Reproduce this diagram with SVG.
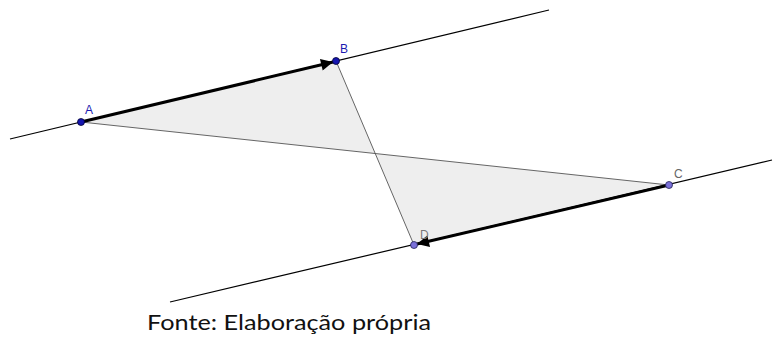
<svg xmlns="http://www.w3.org/2000/svg" width="781" height="338" viewBox="0 0 781 338">
<style>
.line{stroke:#000;stroke-width:1.2;fill:none}
.seg{stroke:#555;stroke-width:0.9;fill:none}
.vec{stroke:#000;stroke-width:3;fill:none}
.lbl{font-family:"Liberation Sans",Arial,sans-serif;font-size:12px}
.cap{font-family:Lato,"DejaVu Sans",sans-serif;font-size:21px;fill:#111}
</style>
<defs>
<marker id="arr" viewBox="0 0 10 10" refX="10" refY="5" markerWidth="5.5" markerHeight="4" markerUnits="strokeWidth" orient="auto">
<path d="M0,0 L10,5 L0,10 Z" fill="#000"/>
</marker>
</defs>
<rect width="781" height="338" fill="#fff"/>
<g id="shading">
<polygon points="81,122 336,61 414,245 669,185" fill="#eeeeee" stroke="none"/>
</g>
<g id="connectors">
<line class="line" x1="10" y1="139" x2="549" y2="10"/>
<line class="line" x1="170" y1="302" x2="772" y2="160"/>
<line class="seg" x1="81" y1="122" x2="669" y2="185"/>
<line class="seg" x1="336" y1="61" x2="414" y2="245"/>
<line class="vec" x1="81" y1="122" x2="333" y2="62" marker-end="url(#arr)"/>
<line class="vec" x1="669" y1="185" x2="417" y2="244" marker-end="url(#arr)"/>
</g>
<g id="A"><circle cx="81" cy="122" r="3.5" fill="#1515b0" stroke="#000033" stroke-width="0.8"/><text class="lbl" x="85" y="114" fill="#1a1ab0">A</text></g>
<g id="B"><circle cx="336" cy="61" r="3.5" fill="#1515b0" stroke="#000033" stroke-width="0.8"/><text class="lbl" x="340" y="53" fill="#1a1ab0">B</text></g>
<g id="C"><circle cx="669" cy="185" r="3.5" fill="#7a70d8" stroke="#222255" stroke-width="0.8"/><text class="lbl" x="674" y="178" fill="#666">C</text></g>
<g id="D"><circle cx="414" cy="245" r="3.5" fill="#7a70d8" stroke="#222255" stroke-width="0.8"/><text class="lbl" x="420" y="239" fill="#777">D</text></g>
<text class="cap" x="147" y="330" textLength="284" lengthAdjust="spacingAndGlyphs">Fonte: Elaboração própria</text>
</svg>
